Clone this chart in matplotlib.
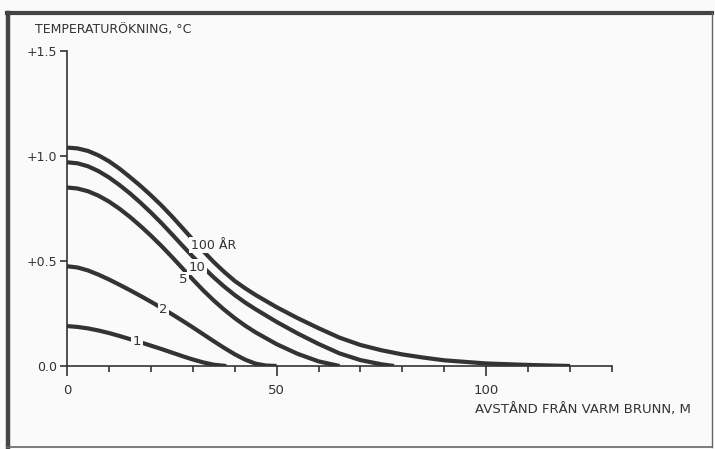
import numpy as np
import matplotlib
matplotlib.use("Agg")
import matplotlib.pyplot as plt
from matplotlib.lines import Line2D

# curves: distance (m) -> temperature rise (deg C)
x_1 = [0, 2.5, 5, 7.5, 10, 12.5, 15, 17.5, 20, 22.5, 25, 27.5, 30, 32.5, 35, 38]
y_1 = [0.19, 0.186, 0.179, 0.169, 0.157, 0.143, 0.128, 0.113, 0.097, 0.081, 0.064, 0.047,
       0.031, 0.017, 0.006, 0.0]

x_2 = [0, 2.5, 5, 7.5, 10, 12.5, 15, 17.5, 20, 22.5, 25, 27.5, 30, 32.5, 35, 37.5, 40,
       42.5, 45, 47.5, 50]
y_2 = [0.475, 0.469, 0.455, 0.435, 0.412, 0.387, 0.361, 0.334, 0.306, 0.277, 0.247, 0.216,
       0.184, 0.151, 0.118, 0.086, 0.056, 0.03, 0.011, 0.002, 0.0]

x_5 = [0, 2.5, 5, 7.5, 10, 12.5, 15, 17.5, 20, 22.5, 25, 27.5, 30, 32.5, 35, 37.5, 40,
       42.5, 45, 50, 55, 60, 65]
y_5 = [0.85, 0.845, 0.832, 0.811, 0.783, 0.749, 0.71, 0.667, 0.621, 0.572, 0.52, 0.466,
       0.412, 0.36, 0.312, 0.268, 0.228, 0.192, 0.16, 0.104, 0.058, 0.022, 0.0]

x_10 = [0, 2.5, 5, 7.5, 10, 12.5, 15, 17.5, 20, 22.5, 25, 27.5, 30, 32.5, 35, 37.5, 40,
        42.5, 45, 50, 55, 60, 65, 70, 75, 78]
y_10 = [0.97, 0.965, 0.951, 0.928, 0.898, 0.862, 0.822, 0.778, 0.731, 0.681, 0.628, 0.574,
        0.521, 0.47, 0.422, 0.378, 0.338, 0.302, 0.27, 0.21, 0.155, 0.105, 0.06, 0.028,
        0.008, 0.0]

x_100 = [0, 2.5, 5, 7.5, 10, 12.5, 15, 17.5, 20, 22.5, 25, 27.5, 30, 32.5, 35, 37.5, 40,
         42.5, 45, 50, 55, 60, 65, 70, 75, 80, 85, 90, 100, 110, 120]
y_100 = [1.04, 1.036, 1.024, 1.003, 0.975, 0.94, 0.90, 0.858, 0.813, 0.765, 0.713, 0.658,
         0.602, 0.547, 0.495, 0.448, 0.405, 0.37, 0.338, 0.28, 0.228, 0.18, 0.135, 0.10,
         0.075, 0.055, 0.04, 0.027, 0.012, 0.005, 0.0]

labels = ["1", "2", "5", "10", "100 ÅR"]
label_x = [16.7, 23.0, 27.7, 31.0, 29.5]
label_y = [0.115, 0.27, 0.41, 0.47, 0.575]

yticks = [0.0, 0.5, 1.0, 1.5]
yticklabels = ["0.0", "+0.5", "+1.0", "+1.5"]
xticks_major = [0, 50, 100]

ink = "#333333"
bg = "#fafafa"
plt.rcParams['font.family'] = ['DejaVu Sans']

fig = plt.figure(figsize=(7.15, 4.49), dpi=100, facecolor=bg)
ax = fig.add_axes([0.0937, 0.1849, 0.7622, 0.7016])
ax.set_facecolor(bg)

for xs, ys in [(x_1, y_1), (x_2, y_2), (x_5, y_5), (x_10, y_10), (x_100, y_100)]:
    ax.plot(xs, ys, color=ink, lw=3.0, solid_capstyle='butt', solid_joinstyle='round', zorder=3)

for t, lx, ly in zip(labels, label_x, label_y):
    ha = 'left' if t.endswith("R") else 'center'
    ax.text(lx, ly, t, fontsize=9.5 if len(t) < 3 else 9, color=ink, ha=ha, va='center',
            zorder=4, bbox=dict(boxstyle='square,pad=0.12', fc=bg, ec='none'))

ax.set_xlim(0, 130)
ax.set_ylim(0, 1.5)
for s in ['top', 'right']:
    ax.spines[s].set_visible(False)
for s in ['left', 'bottom']:
    ax.spines[s].set_color(ink)
    ax.spines[s].set_linewidth(1.2)

ax.set_yticks(yticks)
ax.set_yticklabels(yticklabels)
ax.set_xticks(xticks_major)
ax.set_xticks(np.arange(0, 131, 10), minor=True)
ax.tick_params(axis='y', direction='out', length=5, width=1.2, color=ink,
               labelcolor=ink, labelsize=9, pad=2)
ax.tick_params(axis='x', which='major', direction='out', length=7, width=1.2, color=ink,
               labelcolor=ink, labelsize=9.5, pad=6)
ax.tick_params(axis='x', which='minor', direction='out', length=4, width=1.2, color=ink)

fig.text(35 / 715, 1 - 30 / 449, "TEMPERATURÖKNING, °C", fontsize=9, color=ink,
         ha='left', va='center')
fig.text(475 / 715, 1 - 410 / 449, "AVSTÅND FRÅN VARM BRUNN, M", fontsize=9.5,
         color=ink, ha='left', va='center')

# scanned frame round the figure
fig.add_artist(Line2D([8 / 715, 8 / 715], [1 - 13 / 449, 1 - 447 / 449], color="#444444",
                      lw=3.2, transform=fig.transFigure))
fig.add_artist(Line2D([7 / 715, 712 / 715], [1 - 13 / 449, 1 - 13 / 449], color="#444444",
                      lw=3.0, transform=fig.transFigure))
fig.add_artist(Line2D([712 / 715, 712 / 715], [1 - 13 / 449, 1 - 447 / 449], color="#666666",
                      lw=1.0, transform=fig.transFigure))
fig.add_artist(Line2D([7 / 715, 712 / 715], [1 - 447 / 449, 1 - 447 / 449], color="#666666",
                      lw=1.2, transform=fig.transFigure))

fig.savefig("out.png", dpi=100, facecolor=bg)
